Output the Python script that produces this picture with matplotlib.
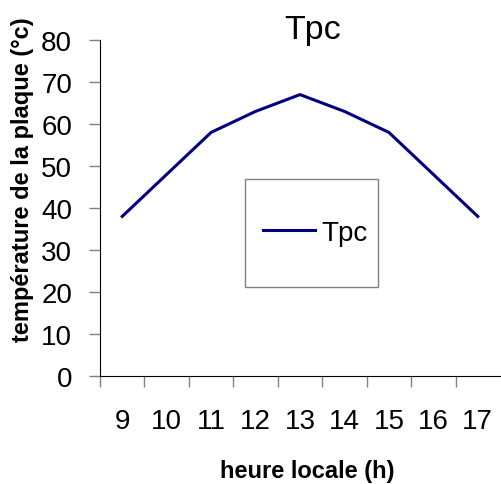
import numpy as np
import matplotlib
matplotlib.use('Agg')
import matplotlib.pyplot as plt
from matplotlib.patches import Rectangle

hours = ['9', '10', '11', '12', '13', '14', '15', '16', '17']
tpc = [38, 48, 58, 63, 67, 63, 58, 48, 38]

plt.rcParams['font.family'] = ['Liberation Sans', 'DejaVu Sans']

fig = plt.figure(figsize=(5.01, 4.85), dpi=100)
ax = fig.add_axes([100/501, 1 - 377/485, 400/501, 336/485])

x = np.arange(len(hours))
line, = ax.plot(x, tpc, color='#000080', lw=2.2, label='Tpc')

ax.set_xlim(-0.5, len(hours) - 0.5)
ax.set_ylim(0, 80)
ax.set_yticks(range(0, 81, 10))
ax.set_xticks(x)
ax.set_xticklabels(hours)
ax.set_xticks(np.arange(-0.5, len(hours) - 1, 1), minor=True)

ax.tick_params(axis='x', which='major', length=0, pad=23, labelsize=20)
ax.tick_params(axis='x', which='minor', length=8, color='#808080', width=1)
ax.tick_params(axis='y', length=8, color='#808080', width=1, pad=12, labelsize=20)

ax.spines['top'].set_visible(False)
ax.spines['right'].set_visible(False)
ax.spines['left'].set_color('black')
ax.spines['bottom'].set_color('black')

fig.text(313/501, 1 - 30/485, 'Tpc', fontsize=24.5, ha='center', va='center')
fig.text(307/501, 1 - 472/485, 'heure locale (h)', fontsize=17, fontweight='bold',
         ha='center', va='center')
fig.text(23/501, 1 - 180/485, 'température de la plaque (°c)', fontsize=17,
         fontweight='bold', rotation=90, ha='center', va='center')

# legend box
box = Rectangle((245/501, 1 - 288/485), 133/501, 108/485, transform=fig.transFigure,
                facecolor='white', edgecolor='#808080', lw=1, zorder=5)
fig.patches.append(box)
leg = fig.legend(handles=[line], loc='center', bbox_to_anchor=(315/501, 1 - 234/485),
                 frameon=False, fontsize=20, handlelength=1.9, handletextpad=0.2)
leg.set_zorder(6)

fig.savefig('out.png', dpi=100)
